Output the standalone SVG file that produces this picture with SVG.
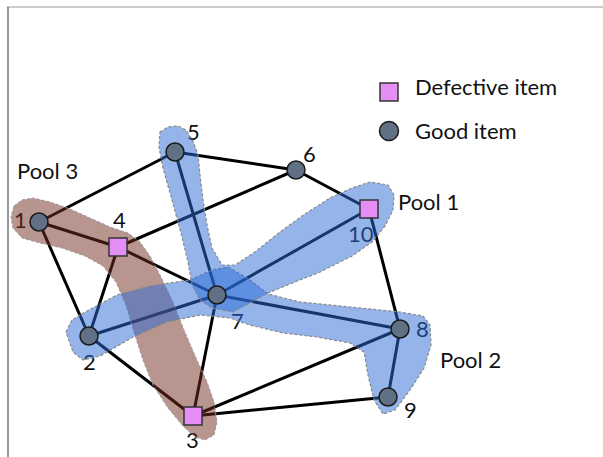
<svg xmlns="http://www.w3.org/2000/svg" width="603" height="457" viewBox="0 0 603 457">
<style>
.edge{stroke:#000;stroke-width:3;fill:none;stroke-linecap:round}
.lbl{font-family:Lato,"Open Sans","DejaVu Sans",sans-serif;font-size:22px;fill:#111}
.good{fill:#607186;stroke:#1a1a1a;stroke-width:1.5}
.bad{fill:#e48ef6;stroke:#333;stroke-width:1.5}
.blue{fill:#2a6ad6;fill-opacity:0.5;stroke:#888;stroke-width:1.2;stroke-dasharray:3 2;stroke-linejoin:round}
.brown{fill:#712b1f;fill-opacity:0.5;stroke:#999;stroke-width:1;stroke-dasharray:3 2;stroke-linejoin:round}
</style>
<rect width="603" height="457" fill="#fff"/>
<line x1="7" y1="7" x2="603" y2="7" stroke="#9a9a9a" stroke-width="1"/>
<line x1="8" y1="7" x2="8" y2="457" stroke="#777" stroke-width="1.5"/>
<g id="connectors">
<line class="edge" x1="39" y1="222" x2="175" y2="152"/>
<line class="edge" x1="39" y1="222" x2="118" y2="247"/>
<line class="edge" x1="39" y1="222" x2="89" y2="336"/>
<line class="edge" x1="118" y1="247" x2="89" y2="336"/>
<line class="edge" x1="118" y1="247" x2="296" y2="170"/>
<line class="edge" x1="118" y1="247" x2="217" y2="295"/>
<line class="edge" x1="175" y1="152" x2="296" y2="170"/>
<line class="edge" x1="175" y1="152" x2="217" y2="295"/>
<line class="edge" x1="296" y1="170" x2="369" y2="209"/>
<line class="edge" x1="369" y1="209" x2="217" y2="295"/>
<line class="edge" x1="369" y1="209" x2="400" y2="329"/>
<line class="edge" x1="217" y1="295" x2="89" y2="336"/>
<line class="edge" x1="217" y1="295" x2="400" y2="329"/>
<line class="edge" x1="217" y1="295" x2="193" y2="416"/>
<line class="edge" x1="89" y1="336" x2="193" y2="416"/>
<line class="edge" x1="193" y1="416" x2="400" y2="329"/>
<line class="edge" x1="193" y1="416" x2="388" y2="397"/>
<line class="edge" x1="400" y1="329" x2="388" y2="397"/>
</g>
<g id="labels">
<text class="lbl" x="17" y="179">Pool 3</text>
<text class="lbl" x="398" y="210">Pool 1</text>
<text class="lbl" x="440" y="368">Pool 2</text>
<text class="lbl" x="14" y="228">1</text>
<text class="lbl" x="83" y="370">2</text>
<text class="lbl" x="186" y="448">3</text>
<text class="lbl" x="113" y="228">4</text>
<text class="lbl" x="187" y="140">5</text>
<text class="lbl" x="303" y="162">6</text>
<text class="lbl" x="231" y="329">7</text>
<text class="lbl" x="416" y="337">8</text>
<text class="lbl" x="404" y="418">9</text>
<text class="lbl" x="348" y="242">10</text>
</g>
<g id="pool3">
<polygon class="brown" points="14,206 22,200 33,198 50,202 70,209 90,218 110,227 128,233 140,242 150,256 160,275 172,300 184,330 196,358 207,382 214,402 217,422 214,435 205,440 195,437 183,426 168,408 153,385 143,360 134,332 126,305 116,282 103,266 85,256 62,248 40,243 22,238 13,228 11,217"/>
</g>
<g id="pool2">
<polygon class="blue" points="66,332 72,320 87,311 117,295 150,286 190,280 212,270 228,267 250,280 268,294 300,302 350,307 400,312 423,316 430,325 431,345 424,368 410,390 395,410 383,414 374,400 368,375 364,352 350,343 317,337 283,333 250,325 230,318 200,315 167,322 133,337 100,356 83,360 73,352"/>
</g>
<g id="pool1">
<polygon class="blue" points="160,132 168,127 178,126 186,130 193,141 198,155 200,175 203,200 207,225 212,248 222,265 235,265 255,252 280,232 305,214 330,198 352,188 370,182 388,185 394,195 393,210 385,226 372,242 352,256 320,272 290,284 268,293 250,303 233,312 212,308 200,300 192,285 188,262 181,233 172,200 163,168 159,147"/>
</g>
<g id="node1"><circle class="good" cx="39" cy="222" r="9"/></g>
<g id="node2"><circle class="good" cx="89" cy="336" r="9"/></g>
<g id="node3"><rect class="bad" x="184" y="407" width="18" height="18"/></g>
<g id="node4"><rect class="bad" x="109" y="238" width="18" height="18"/></g>
<g id="node5"><circle class="good" cx="175" cy="152" r="9"/></g>
<g id="node6"><circle class="good" cx="296" cy="170" r="9"/></g>
<g id="node7"><circle class="good" cx="217" cy="295" r="9"/></g>
<g id="node8"><circle class="good" cx="400" cy="329" r="9"/></g>
<g id="node9"><circle class="good" cx="388" cy="397" r="9"/></g>
<g id="node10"><rect class="bad" x="360" y="200" width="18" height="18"/></g>
<g id="legend">
<rect class="bad" x="380" y="83" width="18" height="18"/>
<text class="lbl" x="415" y="95">Defective item</text>
<circle class="good" cx="389" cy="131" r="9.5"/>
<text class="lbl" x="415" y="139">Good item</text>
</g>
</svg>
